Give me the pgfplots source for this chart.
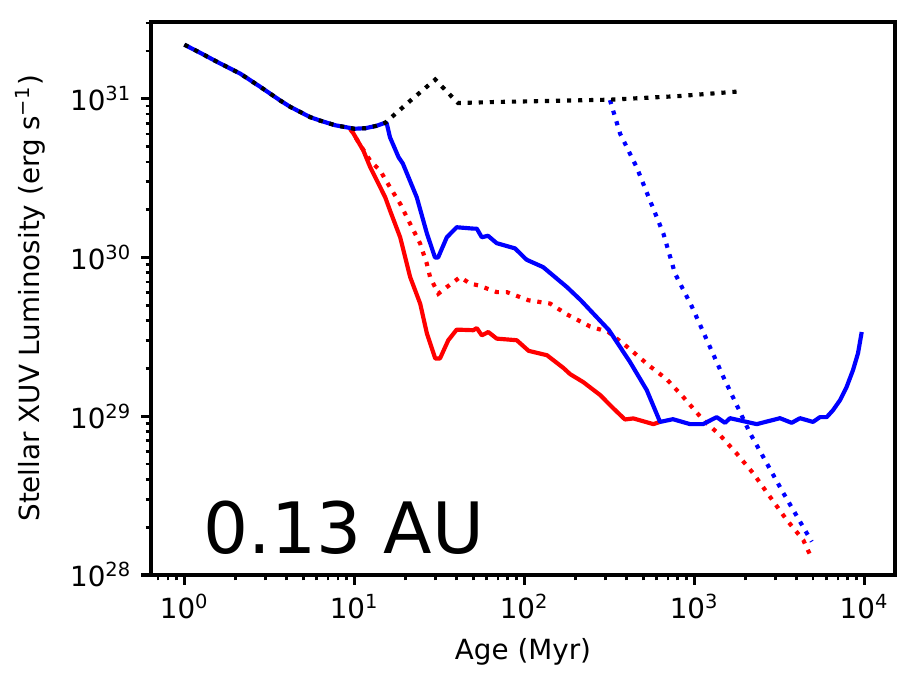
\documentclass[border=0pt]{standalone}
\usepackage{fontspec}
\setmainfont{DejaVu Sans}
\usepackage{pgfplots}
\pgfplotsset{compat=1.18}
\begin{document}
\begin{tikzpicture}
\useasboundingbox (-54.4pt,-38.5pt) rectangle (276.1pt,207.0pt);
\begin{axis}[
  xmode=log, ymode=log,
  scale only axis, width=267.8pt, height=199.1pt,
  at={(0pt,0pt)}, anchor=south west,
  xmin=0.637, xmax=15150, ymin=1e28, ymax=3.05e31,
  axis line style={line width=1.4pt},
  tick align=outside, tick pos=left,
  major tick length=3.5pt, minor tick length=2pt,
  every major tick/.style={line width=1.2pt, black},
  every minor tick/.style={line width=1pt, black},
  xtick={1,10,100,1000,10000},
  xticklabels={10\textsuperscript{0},10\textsuperscript{1},10\textsuperscript{2},10\textsuperscript{3},10\textsuperscript{4}},
  minor xtick={0.7,0.8,0.9,2,3,4,5,6,7,8,9,20,30,40,50,60,70,80,90,200,300,400,500,600,700,800,900,2000,3000,4000,5000,6000,7000,8000,9000},
  ytick={1e28,1e29,1e30,1e31},
  yticklabels={10\textsuperscript{28},10\textsuperscript{29},10\textsuperscript{30},10\textsuperscript{31}},
  minor ytick={2e28,3e28,4e28,5e28,6e28,7e28,8e28,9e28,2e29,3e29,4e29,5e29,6e29,7e29,8e29,9e29,2e30,3e30,4e30,5e30,6e30,7e30,8e30,9e30,2e31,3e31},
  tick label style={font=\fontsize{10}{12}\selectfont},
  label style={font=\fontsize{10}{12}\selectfont},
  xlabel={Age (Myr)},
  ylabel={Stellar XUV Luminosity (erg s\textsuperscript{−1})},
  xlabel style={at={(axis description cs:0.5,-0.1537)}, anchor=base},
  ylabel style={at={(axis description cs:-0.1494,0.5)}, anchor=base},
  dotline/.style={line width=1.5pt, dash pattern=on 1.5pt off 2.475pt, line cap=butt},
  solline/.style={line width=1.5pt, line join=round},
]
% red solid
\addplot[solline, red] coordinates {
(9.65,6.30e30) (11.3,4.71e30) (12.4,3.70e30) (15.2,2.39e30) (16.2,1.98e30) (18.6,1.34e30)
(21.3,7.52e29) (24.4,5.11e29) (26.7,3.33e29) (29.9,2.31e29) (31.9,2.31e29) (35.7,3.01e29)
(40.0,3.51e29) (50.1,3.48e29) (52.5,3.59e29) (56.2,3.23e29) (61.4,3.39e29) (68.8,3.08e29)
(90.2,3.01e29) (106,2.58e29) (136,2.42e29) (170,2.01e29) (186,1.84e29) (222,1.64e29)
(279,1.36e29) (334,1.12e29) (391,9.53e28) (438,9.68e28) (574,8.91e28) (629,9.2e28)
};
% red dotted
\addplot[dotline, red] coordinates {
(9.43,6.47e30) (12.4,4.07e30) (14.2,3.52e30) (16.2,2.77e30) (18.6,2.18e30) (21.3,1.63e30)
(24.4,1.22e30) (26.7,9.12e29) (27.9,7.52e29) (31.2,5.91e29) (35.0,6.51e29) (41.9,7.52e29)
(48.0,6.84e29) (53.6,6.67e29) (68.8,6.05e29) (78.8,6.05e29) (106,5.37e29) (142,5.12e29)
(178,4.38e29) (243,3.68e29) (312,3.39e29) (400,2.75e29) (549,2.06e29) (688,1.71e29)
(861,1.32e29) (1130,9.44e28) (1416,7.60e28) (1774,5.82e28) (2223,4.36e28) (2786,3.11e28)
(3497,2.22e28) (4375,1.66e28) (4906,1.27e28)
};
% blue solid
\addplot[solline, blue] coordinates {
(1.0,2.19e31) (1.235,1.95e31) (1.62,1.67e31) (2.13,1.44e31) (2.79,1.19e31) (3.66,9.75e30)
(4.18,8.91e30) (5.49,7.66e30) (6.29,7.28e30) (7.70,6.81e30) (10.0,6.47e30) (11.6,6.52e30)
(13.5,6.75e30) (15.2,7.06e30)
(15.5,7.0e30) (16.2,5.72e30) (18.2,4.28e30) (19.3,3.90e30) (23.3,2.39e30) (26.7,1.42e30)
(29.8,1.0e30) (31.1,1.0e30) (35.0,1.34e30) (40.0,1.55e30) (49.9,1.52e30) (52.5,1.52e30)
(56.2,1.34e30) (61.1,1.37e30) (68.8,1.23e30) (88.2,1.14e30) (103,9.68e29) (129,8.69e29)
(178,6.51e29) (215,5.37e29) (315,3.48e29) (419,2.19e29) (525,1.46e29) (629,9.2e28)
(749,9.57e28) (944,8.91e28) (1125,8.91e28) (1354,9.86e28) (1516,9.08e28) (1622,9.71e28)
(2329,8.91e28) (3193,9.71e28) (3741,9.08e28) (4187,9.71e28) (4993,9.2e28) (5486,9.86e28)
(6010,9.86e28) (6545,1.09e29) (7197,1.26e29) (7877,1.53e29) (8583,1.95e29) (9186,2.49e29)
(9660,3.39e29)
};
% blue dotted
\addplot[dotline, blue] coordinates {
(319,9.8e30) (366,6.03e30) (458,3.70e30) (549,2.28e30) (657,1.42e30) (770,7.93e29)
(966,4.92e29) (1482,1.77e29) (2128,7.81e28) (3340,3.28e28) (4906,1.62e28)
};
% black dotted
\addplot[dotline, black] coordinates {
(1.0,2.19e31) (1.235,1.95e31) (1.62,1.67e31) (2.13,1.44e31) (2.79,1.19e31) (3.66,9.75e30)
(4.18,8.91e30) (5.49,7.66e30) (6.29,7.28e30) (7.70,6.81e30) (10.0,6.47e30) (11.6,6.52e30)
(13.5,6.75e30) (15.2,7.06e30) (21.3,9.7e30) (29.9,1.32e31)
(40.7,9.4e30) (71.7,9.55e30) (150,9.7e30) (319,9.86e30) (820,1.04e31) (1808,1.11e31)
};
\node[anchor=base west, inner sep=0pt, font=\fontsize{25.5}{30}\selectfont]
  at ([xshift=18.7pt,yshift=7.6pt]rel axis cs:0,0) {0.13 AU};
\end{axis}
\end{tikzpicture}
\end{document}
